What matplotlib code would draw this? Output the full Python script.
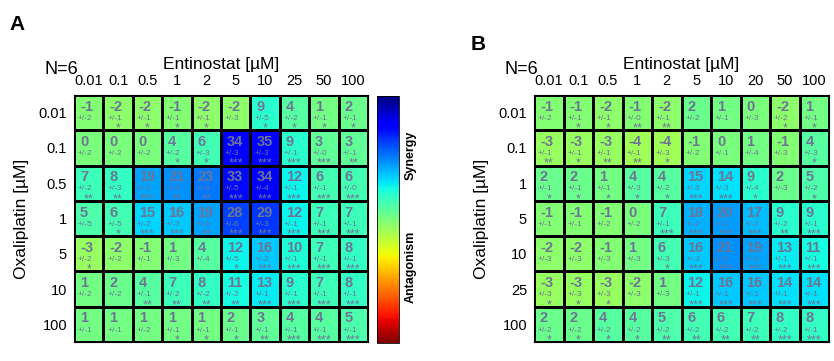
import matplotlib
matplotlib.use("Agg")
from matplotlib import pyplot as plt
import numpy as np

plt.rcParams['font.family'] = ['Liberation Sans', 'DejaVu Sans']

# panel A: oxaliplatin (rows) x entinostat (cols)
ent_a = ["0.01", "0.1", "0.5", "1", "2", "5", "10", "25", "50", "100"]
oxa_a = ["0.01", "0.1", "0.5", "1", "5", "10", "100"]
val_a = [[-1, -2, -2, -1, -2, -2, 9, 4, 1, 2],
         [0, 0, 0, 4, 6, 34, 35, 9, 3, 3],
         [7, 8, 19, 21, 23, 33, 34, 12, 6, 6],
         [5, 6, 15, 16, 19, 28, 29, 12, 7, 7],
         [-3, -2, -1, 1, 4, 12, 16, 10, 7, 8],
         [1, 2, 4, 7, 8, 11, 13, 9, 7, 8],
         [1, 1, 1, 1, 1, 2, 3, 4, 4, 5]]
err_a = [[2, 1, 1, 1, 1, 3, 5, 2, 1, 1],
         [2, 2, 2, 2, 3, 3, 3, 1, 0, 1],
         [2, 3, 3, 6, 6, 5, 4, 1, 1, 0],
         [5, 5, 2, 3, 6, 6, 3, 1, 1, 1],
         [2, 2, 1, 3, 4, 5, 2, 1, 1, 1],
         [2, 2, 1, 2, 2, 2, 1, 1, 1, 1],
         [1, 1, 2, 1, 1, 1, 1, 1, 1, 1]]
sig_a = [[0, 1, 1, 1, 1, 0, 1, 1, 1, 1],
         [0, 0, 0, 1, 1, 3, 3, 3, 3, 2],
         [2, 2, 3, 2, 2, 3, 3, 3, 3, 3],
         [0, 1, 3, 3, 2, 3, 3, 3, 3, 3],
         [1, 0, 0, 0, 0, 1, 3, 3, 3, 3],
         [0, 0, 2, 2, 2, 2, 3, 3, 3, 3],
         [0, 0, 0, 1, 1, 1, 2, 3, 3, 3]]

# panel B
ent_b = ["0.01", "0.1", "0.5", "1", "2", "5", "10", "20", "50", "100"]
oxa_b = ["0.01", "0.1", "1", "5", "10", "25", "100"]
val_b = [[-1, -1, -2, -1, -2, 2, 1, 0, -2, 1],
         [-3, -3, -3, -4, -4, -1, 0, 1, -1, 4],
         [2, 2, 1, 4, 4, 15, 14, 9, 2, 5],
         [-1, -1, -1, 0, 7, 18, 20, 17, 9, 9],
         [-2, -2, -1, 1, 6, 16, 21, 19, 13, 11],
         [-3, -3, -3, -2, 1, 12, 16, 16, 14, 14],
         [2, 2, 4, 4, 5, 6, 6, 7, 8, 8]]
err_b = [[2, 1, 1, 0, 1, 2, 1, 3, 2, 1],
         [1, 1, 1, 1, 3, 2, 1, 4, 3, 3],
         [1, 1, 1, 3, 2, 3, 3, 4, 3, 2],
         [1, 1, 2, 2, 1, 2, 1, 2, 2, 1],
         [3, 3, 3, 3, 3, 3, 2, 2, 1, 1],
         [3, 3, 3, 3, 3, 1, 1, 1, 1, 1],
         [2, 2, 2, 2, 2, 2, 2, 2, 2, 1]]
sig_b = [[0, 1, 1, 2, 2, 0, 0, 0, 1, 1],
         [2, 1, 2, 2, 1, 0, 0, 0, 0, 1],
         [1, 1, 1, 1, 1, 3, 3, 1, 0, 1],
         [0, 0, 0, 0, 3, 3, 3, 3, 2, 3],
         [0, 0, 0, 0, 1, 3, 3, 3, 3, 3],
         [1, 1, 1, 0, 0, 3, 3, 3, 3, 3],
         [1, 1, 1, 1, 2, 2, 2, 2, 3, 3]]

W, H = 834, 361
fig = plt.figure(figsize=(W / 100, H / 100), dpi=100)
txtcol = '#6d7594'
cmap = 'jet_r'
vmin, vmax = -45, 45


def px_axes(x0, y0, x1, y1):
    return fig.add_axes([x0 / W, 1 - y1 / H, (x1 - x0) / W, (y1 - y0) / H])


def heat(ax, vals, errs, sigs, xl, yl):
    v = np.array(vals)
    ax.pcolormesh(v, cmap=cmap, vmin=vmin, vmax=vmax, edgecolors='black', linewidth=0.8)
    ax.set_xlim(0, v.shape[1])
    ax.set_ylim(v.shape[0], 0)
    for i in range(v.shape[0]):
        for j in range(v.shape[1]):
            ax.text(j + 0.2, i + 0.33, str(vals[i][j]), color=txtcol, fontsize=10.5,
                    fontweight='bold', ha='left', va='center')
            ax.text(j + 0.13, i + 0.66, "+/-%d" % errs[i][j], color=txtcol, fontsize=6,
                    ha='left', va='center')
            if sigs[i][j]:
                ax.text(j + 0.5, i + 0.95, "*" * sigs[i][j], color=txtcol, fontsize=9,
                        ha='center', va='center')
    ax.xaxis.tick_top()
    ax.set_xticks(np.arange(v.shape[1]) + 0.5)
    ax.set_xticklabels(xl, fontsize=10.5)
    ax.set_yticks(np.arange(v.shape[0]) + 0.5)
    ax.set_yticklabels(yl, fontsize=10.5)
    ax.tick_params(length=0, pad=5)
    ax.set_xlabel("Entinostat [µM]", fontsize=12.5, labelpad=4)
    ax.xaxis.set_label_position('top')
    ax.set_ylabel("Oxaliplatin [µM]", fontsize=12.5, labelpad=7)


axA = px_axes(74, 95, 368, 342)
heat(axA, val_a, err_a, sig_a, ent_a, oxa_a)
axB = px_axes(534, 95, 829, 342)
heat(axB, val_b, err_b, sig_b, ent_b, oxa_b)

# colorbar
cax = px_axes(377, 96, 399, 343)
sm = plt.cm.ScalarMappable(cmap=cmap, norm=plt.Normalize(vmin, vmax))
cb = fig.colorbar(sm, cax=cax, ticks=[])
cb.outline.set_linewidth(0.6)
fig.text(411 / W, 1 - 155 / H, "Synergy", rotation=90, fontsize=9, fontweight='bold',
         ha='center', va='center')
fig.text(411 / W, 1 - 267 / H, "Antagonism", rotation=90, fontsize=9, fontweight='bold',
         ha='center', va='center')

fig.text(45 / W, 1 - 70 / H, "N=6", fontsize=13, ha='left', va='center')
fig.text(505 / W, 1 - 70 / H, "N=6", fontsize=13, ha='left', va='center')
fig.text(9 / W, 1 - 25 / H, "A", fontsize=15, fontweight='bold', ha='left', va='center')
fig.text(471 / W, 1 - 45 / H, "B", fontsize=15, fontweight='bold', ha='left', va='center')

fig.savefig("out.png", dpi=100)
